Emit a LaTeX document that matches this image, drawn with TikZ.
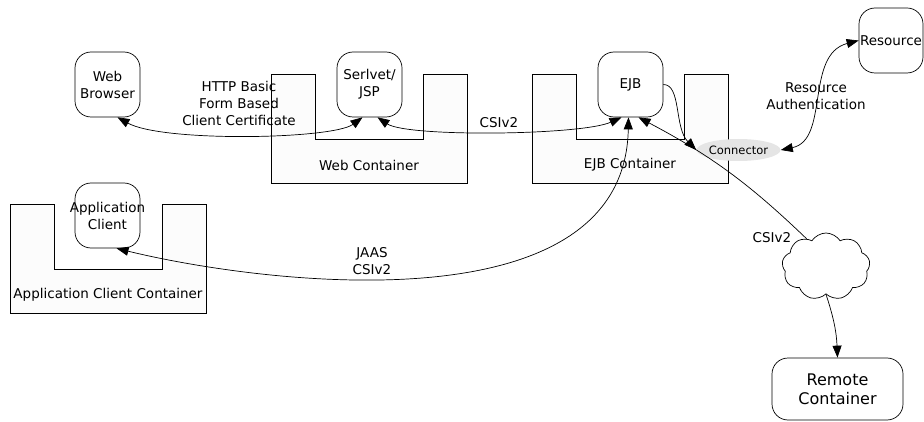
\documentclass[tikz,border=0pt]{standalone}
\usepackage{fontspec}
\setmainfont{DejaVu Sans}
\usetikzlibrary{arrows.meta,shapes.geometric,shapes.symbols}

\begin{document}
\begin{tikzpicture}[x=1pt, y=-1pt, line width=0.7pt,
   comp/.style={draw, rounded corners=16pt, fill=white, minimum width=65pt, minimum height=65pt, align=center, inner xsep=0pt, font=\fontsize{13.5}{17}\selectfont},
   cont/.style={draw, fill=black!1},
   lbl/.style={align=center, inner sep=0pt, font=\fontsize{13.5}{17}\selectfont},
   tip/.style={-{Triangle[length=12pt,width=9pt]}},
   tips/.style={{Triangle[length=12pt,width=9pt]}-{Triangle[length=12pt,width=9pt]}}]
\useasboundingbox (0,0) rectangle (924,422);
\foreach \cx/\cy/\cname/\ctext in {271/74/webc/Web Container, 532/74/ejbc/EJB Container, 10/204/appc/Application Client Container}{
   \draw[cont] (\cx,\cy) -- ++(44,0) -- ++(0,65) -- ++(108,0) -- ++(0,-65) -- ++(44,0) -- ++(0,109) -- ++(-196,0) -- cycle;
   \node[lbl] (\cname) at (\cx+98,\cy+91) {\ctext};
}
\node[comp] (browser) at (107.5,84.5) {Web\\Browser};
\node[comp] (servlet) at (369.5,84.5) {Serlvet/\\JSP};
\node[comp] (ejb) at (630.5,84.5) {EJB};
\node[comp, inner xsep=-6pt] (appclient) at (107.5,215.5) {Application\\Client};
\node[comp, minimum width=64pt] (res) at (891,40.5) {Resource};
\node[comp, minimum width=131pt, minimum height=62pt, font=\fontsize{16}{19}\selectfont] (remote) at (837.5,389) {Remote\\Container};
\node[ellipse, fill=black!10, minimum width=63pt, minimum height=22pt, inner sep=0pt, font=\fontsize{11.5}{13}\selectfont] (conn) at (738.5,150) {Connector};
\node[cloud, draw, fill=white, cloud puffs=9, cloud puff arc=115, cloud ignores aspect, minimum width=88pt, minimum height=67pt, inner sep=0pt] (net) at (826,266.5) {};

\node[lbl] (httplbl) at (239,103) {HTTP Basic\\Form Based\\Client Certificate};
\node[lbl] (csilbl) at (499,123) {CSIv2};
\node[lbl] (reslbl) at (816,96.5) {Resource\\Authentication};
\node[lbl] (jaaslbl) at (372,261.5) {JAAS\\CSIv2};
\node[lbl] (netlbl) at (772,238) {CSIv2};

\draw[tips] ([xshift=-7pt]servlet.south) .. controls +(-30,22) and +(45,25) .. ([xshift=10pt]browser.south);
\draw[tips] ([xshift=8pt]servlet.south) .. controls +(30,20) and +(-40,18) .. ([xshift=-9pt]ejb.south);
\draw[tips] ([xshift=-2pt]ejb.south) .. controls +(-4,213) and +(143,35) .. ([xshift=9pt]appclient.south);
\draw[tip] (net.125) to[bend right=8] ([xshift=8pt]ejb.south);
\draw[tip] (ejb.east) .. controls +(18,0) and +(-22,-22) .. (conn.west);
\draw[tips] (conn.east) .. controls +(49,-10) and +(-54,14) .. (res.west);
\draw[tip] (net.south) to[bend left=8] (remote.north);
\end{tikzpicture}
\end{document}
